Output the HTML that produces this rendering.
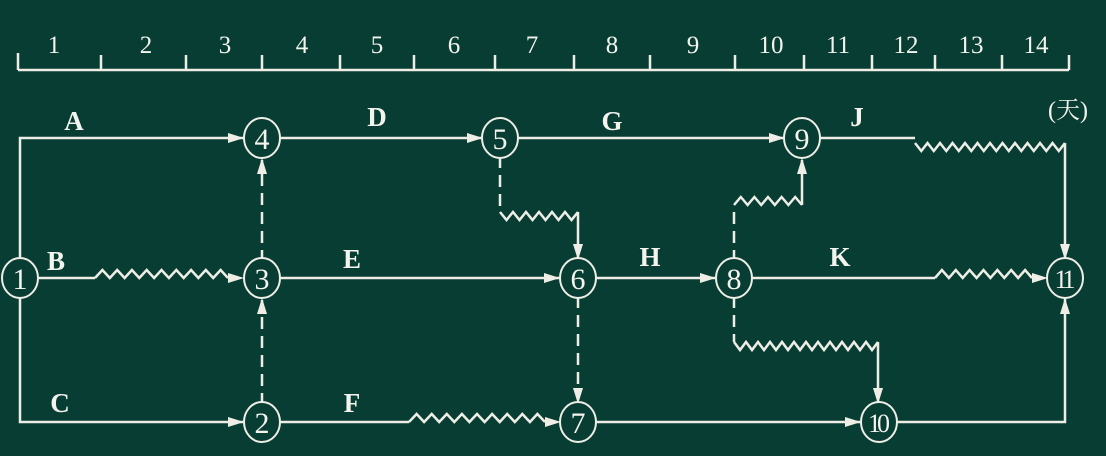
<!DOCTYPE html>
<html><head><meta charset="utf-8"><style>
html,body{margin:0;padding:0;background:#083d33;}
svg{display:block;}
text{font-family:"Liberation Serif","Noto Serif CJK SC",serif;fill:#f4f4ee;}
</style></head><body>
<svg id="s" width="1106" height="456" viewBox="0 0 1106 456" xmlns="http://www.w3.org/2000/svg">
<rect width="1106" height="456" fill="#083d33"/>
<g stroke="#eeeee6" stroke-width="2.5" fill="none" id="lines">
<path d="M18 70 H1069 M18 70 V53 M101 70 V55 M186 70 V55 M262 70 V55 M340 70 V55 M414 70 V55 M495 70 V55 M574 70 V55 M650 70 V55 M735 70 V55 M804 70 V55 M872 70 V55 M935 70 V55 M1002 70 V55 M1069 70 V55"/>
<path d="M20 260 V138 H244 M279 138 H483 M518 138 H785 M820 138 H915"/>
<path d="M38 278 H95 M279 278 H560 M594 278 H716 M751 278 H935"/>
<path d="M20 296 V422 H244 M279 422 H409 M596 422 H861 M897 422 H1065 V298"/>
<path d="M1065 143 V262"/>
<path stroke-dasharray="12,7" d="M262 262 V160 M262 405 V300 M500 156 V212 M578 296 V400 M734 262 V205 M734 296 V342"/>
<path d="M578 212 V258 M802 205 V160 M878 342 V404"/>
<path id="zz" d=""/>
</g>
<g fill="#eeeee6" id="arrows">
<polygon points="244,138 228,133 228,143"/>
<polygon points="483,138 467,133 467,143"/>
<polygon points="785,138 769,133 769,143"/>
<polygon points="244,278 228,273 228,283"/>
<polygon points="560,278 544,273 544,283"/>
<polygon points="716,278 700,273 700,283"/>
<polygon points="1048,278 1032,273 1032,283"/>
<polygon points="244,422 228,417 228,427"/>
<polygon points="561,422 545,417 545,427"/>
<polygon points="861,422 845,417 845,427"/>
<polygon points="262,158 257,174 267,174"/>
<polygon points="262,298 257,314 267,314"/>
<polygon points="802,158 797,174 807,174"/>
<polygon points="1065,298 1060,314 1070,314"/>
<polygon points="578,260 573,244 583,244"/>
<polygon points="578,404 573,388 583,388"/>
<polygon points="878,404 873,388 883,388"/>
<polygon points="1065,260 1060,244 1070,244"/>
</g>
<g stroke="#eeeee6" stroke-width="2" fill="#083d33">
<ellipse cx="20" cy="278" rx="18" ry="20"/>
<ellipse cx="262" cy="138" rx="18" ry="20"/>
<ellipse cx="262" cy="278" rx="18" ry="20"/>
<ellipse cx="262" cy="422" rx="18" ry="20"/>
<ellipse cx="500" cy="138" rx="18" ry="20"/>
<ellipse cx="578" cy="278" rx="18" ry="20"/>
<ellipse cx="578" cy="422" rx="18" ry="20"/>
<ellipse cx="734" cy="278" rx="18" ry="20"/>
<ellipse cx="802" cy="138" rx="18" ry="20"/>
<ellipse cx="879" cy="422" rx="18" ry="20"/>
<ellipse cx="1065" cy="278" rx="18" ry="20"/>
</g>
<g font-size="30" text-anchor="middle">
<text x="20" y="289">1</text>
<text x="262" y="149">4</text>
<text x="262" y="289">3</text>
<text x="262" y="433">2</text>
<text x="500" y="149">5</text>
<text x="578" y="289">6</text>
<text x="578" y="433">7</text>
<text x="734" y="289">8</text>
<text x="802" y="149">9</text>
<text x="877" y="432" font-size="26" letter-spacing="-4">10</text>
<text x="1063" y="288" font-size="26" letter-spacing="-4">11</text>
</g>
<g font-size="25" text-anchor="middle">
<text x="54" y="53">1</text><text x="146" y="53">2</text><text x="225" y="53">3</text>
<text x="302" y="53">4</text><text x="377" y="53">5</text><text x="454" y="53">6</text>
<text x="532" y="53">7</text><text x="612" y="53">8</text><text x="693" y="53">9</text>
<text x="771" y="53">10</text><text x="838" y="53">11</text><text x="906" y="53">12</text>
<text x="971" y="53">13</text><text x="1036" y="53">14</text>
</g>
<g font-size="27" font-weight="bold" text-anchor="middle">
<text x="74" y="130">A</text><text x="377" y="126">D</text><text x="612" y="130">G</text><text x="857" y="126">J</text>
<text x="56" y="270">B</text><text x="352" y="268">E</text><text x="650" y="266">H</text><text x="840" y="266">K</text>
<text x="60" y="412">C</text><text x="352" y="412">F</text>
</g>
<text x="1068" y="118" font-size="24" text-anchor="middle">(天)</text>
</svg>
<script>
function zig(x1,x2,y,n,a){var d="M"+x1+" "+y;var w=(x2-x1)/n;for(var i=0;i<n;i++){d+=" L"+(x1+w*(i+0.5)).toFixed(1)+" "+(y+a)+" L"+(x1+w*(i+1)).toFixed(1)+" "+y;}return d;}
var p=[zig(95,228,278,9,-8),zig(500,578,212,6,8),zig(734,802,205,5,-8),zig(915,1065,143,12,8),zig(935,1032,278,7,-8),zig(734,878,342,12,8),zig(409,545,422,9,-8)];
document.getElementById("zz").setAttribute("d",p.join(" "));
</script>
</body></html>
